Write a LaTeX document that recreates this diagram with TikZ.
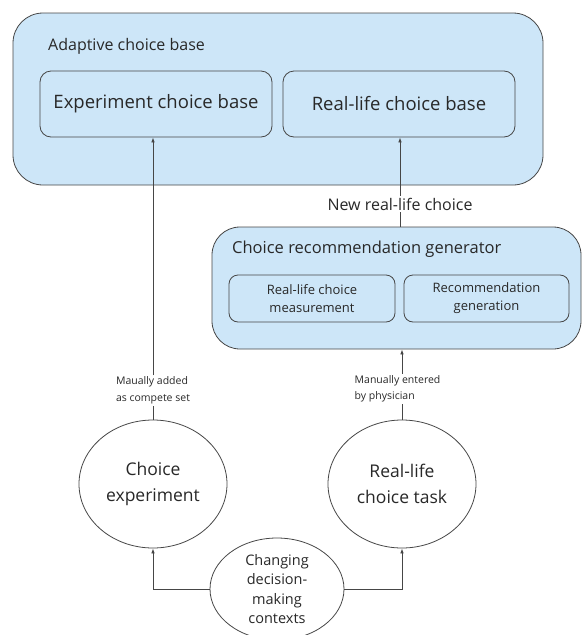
\documentclass[tikz,border=0pt]{standalone}
\usepackage{fontspec}
\setmainfont{Open Sans}
\usetikzlibrary{arrows.meta,shapes.geometric}

\definecolor{boxfill}{RGB}{205,230,248}
\definecolor{edge}{RGB}{70,70,70}
\definecolor{ink}{RGB}{40,40,40}

\tikzset{
  every node/.style={text=ink},
  bigbox/.style={draw=edge, line width=0.8pt, fill=boxfill, rounded corners=30pt,
    inner sep=0pt},
  subbox/.style={draw=edge, line width=0.8pt, rounded corners=11pt, inner sep=0pt,
    align=center},
  oval/.style={ellipse, draw=edge, line width=0.8pt, fill=white, inner sep=0pt,
    align=center},
  conn/.style={draw=edge, line width=0.8pt},
  arr/.style={conn, -{Latex[length=5pt,width=3.6pt]}},
  note/.style={inner sep=1.5pt, align=left, font=\fontsize{10.5}{16.5}\selectfont},
}

\begin{document}
\begin{tikzpicture}[x=1pt, y=-1pt]
  \useasboundingbox (0,0) rectangle (582,635);

  % adaptive choice base container
  \node[bigbox, minimum width=530pt, minimum height=172pt] (acb) at (278,99) {};
  \node[anchor=west, inner sep=0pt, font=\fontsize{16}{19}\selectfont]
    (acbtitle) at (48,46) {Adaptive choice base};
  \node[subbox, minimum width=232pt, minimum height=66pt,
    font=\fontsize{18.5}{22}\selectfont] (expbase) at (156,104) {Experiment choice base};
  \node[subbox, minimum width=232pt, minimum height=66pt,
    font=\fontsize{18.5}{22}\selectfont] (realbase) at (399,104) {Real-life choice base};

  % recommendation generator container
  \node[bigbox, rounded corners=28pt, minimum width=369pt, minimum height=122pt]
    (gen) at (396.5,288) {};
  \node[anchor=west, inner sep=0pt, font=\fontsize{16.5}{19}\selectfont]
    (gentitle) at (232,249) {Choice recommendation generator};
  \node[subbox, rounded corners=9pt, minimum width=166pt, minimum height=47pt,
    font=\fontsize{13}{18}\selectfont] (measure) at (312,298.5)
    {Real-life choice\\measurement};
  \node[subbox, rounded corners=9pt, minimum width=165pt, minimum height=47pt,
    font=\fontsize{13}{18}\selectfont] (recgen) at (486.5,298.5)
    {Recommendation\\generation};

  % decision tasks
  \node[oval, minimum width=148pt, minimum height=128pt,
    font=\fontsize{17.5}{26}\selectfont] (exp) at (153,484) {Choice\\experiment};
  \node[oval, minimum width=148pt, minimum height=128pt,
    font=\fontsize{17.5}{26}\selectfont] (task) at (402,484) {Real-life\\choice task};
  \node[oval, minimum width=134pt, minimum height=102pt,
    font=\fontsize{14.5}{19.5}\selectfont] (ctx) at (277,589)
    {Changing\\decision-\\making\\contexts};

  % connector labels
  \node[note] (addlab) at (153,390.5) {Maually added\\as compete set};
  \node[note, anchor=west] (entlab) at (353,389) {Manually entered\\by physician};
  \node[inner sep=2pt, font=\fontsize{16}{19}\selectfont] (newlab) at (400,204)
    {New real-life choice};

  % connectors
  \draw[conn] (exp.north) -- (addlab.south);
  \draw[arr] (addlab.north) -- (addlab.north |- expbase.south);

  \draw[conn] (task.north) -- (task.north |- entlab.south);
  \draw[arr] (task.north |- entlab.north) -- (task.north |- gen.south);

  \draw[conn] (newlab.south |- gen.north) -- (newlab.south);
  \draw[arr] (newlab.north) -- (newlab.north |- realbase.south);

  \draw[arr] (ctx.west) -| (exp.south);
  \draw[arr] (ctx.east) -| (task.south);
\end{tikzpicture}
\end{document}
